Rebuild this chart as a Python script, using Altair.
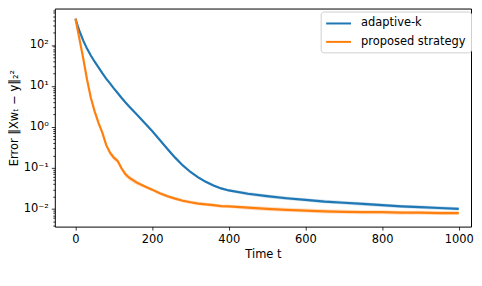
import altair as alt
import pandas as pd

# time steps
t = [0, 5, 10, 20, 30, 40, 50, 60, 70, 80, 90, 100, 110, 120, 130, 140, 160, 180, 200,
     220, 240, 260, 280, 300, 320, 340, 360, 380, 400, 450, 500, 550, 600, 650, 700,
     750, 800, 850, 900, 950, 1000]

# adaptive-k error
adaptive = [436.5, 302, 224, 129, 81.3, 55, 38.9, 28.2, 20.4, 15.1, 11.5, 8.7, 6.7, 5.13,
            4.0, 3.16, 2.0, 1.26, 0.79, 0.48, 0.29, 0.178, 0.115, 0.0794, 0.0589,
            0.0457, 0.0372, 0.0316, 0.0282, 0.0234, 0.0204, 0.0182, 0.0166, 0.0151,
            0.0141, 0.0132, 0.0123, 0.0115, 0.0110, 0.0105, 0.0100]

# proposed strategy error
proposed = [436.5, 251, 144.5, 47.9, 14.5, 5.13, 2.40, 1.26, 0.724, 0.363, 0.234, 0.178,
            0.148, 0.0977, 0.0708, 0.0575, 0.0437, 0.0355, 0.0295, 0.0240, 0.0204,
            0.0178, 0.0158, 0.0145, 0.0135, 0.0129, 0.0123, 0.0117, 0.0115, 0.0107,
            0.0100, 0.0095, 0.0091, 0.0087, 0.0085, 0.0083, 0.0083, 0.0081, 0.0081,
            0.0079, 0.0079]

# relative spread of the shaded band
adaptive_spread = [0.02] * 12 + [0.03] * 7 + [0.04] * 5 + [0.07] * 5 + [0.1] * 12
proposed_spread = [0.03] * 10 + [0.15] * 7 + [0.1] * 12 + [0.12] * 12

series_names = ["adaptive-k", "proposed strategy"]
colors = ["#1f77b4", "#ff7f0e"]

rows = []
for name, vals, spr in [(series_names[0], adaptive, adaptive_spread),
                        (series_names[1], proposed, proposed_spread)]:
    for ti, v, s in zip(t, vals, spr):
        rows.append({"t": ti, "series": name, "value": v,
                     "lo": v / (1 + s), "hi": v * (1 + s)})
df = pd.DataFrame(rows)

major = [0.01, 0.1, 1, 10, 100]
minor = [m * 10.0 ** k for k in range(-3, 3) for m in range(2, 10)]
minor = [round(v, 6) for v in minor if 0.0037 <= v <= 770]
yticks = major + minor

is_major = "indexof([0.01,0.1,1,10,100], datum.value) >= 0"
label_expr = ("datum.value == 100 ? '10²' : datum.value == 10 ? '10¹' : "
              "datum.value == 1 ? '10⁰' : datum.value == 0.1 ? '10⁻¹' : "
              "datum.value == 0.01 ? '10⁻²' : ''")

yscale = alt.Scale(type="log", domain=[0.003698, 770.9], nice=False)
xscale = alt.Scale(domain=[-54, 1032], nice=False, zero=False)

yaxis = alt.Axis(
    values=yticks,
    labelExpr=label_expr,
    tickSize={"condition": {"test": is_major, "value": 3.5}, "value": 2},
    labelFontSize={"condition": {"test": is_major, "value": 11.5}, "value": 0},
    labelOverlap=False,
    title="Error ‖Xwₜ − y‖₂²",
    titleFontWeight="normal",
    titleFontSize=11.5,
    domain=False,
    grid=False,
    tickColor="black",
    tickWidth=0.8,
    labelColor="black",
    titleColor="black",
    labelPadding=3,
    titlePadding=4,
)
xaxis = alt.Axis(
    values=[0, 200, 400, 600, 800, 1000],
    format="d",
    title="Time t",
    titleFontWeight="normal",
    titleFontSize=11.5,
    labelFontSize=11.5,
    domain=False,
    grid=False,
    tickSize=3.5,
    tickColor="black",
    tickWidth=0.8,
    labelColor="black",
    titleColor="black",
    labelFlush=False,
    labelPadding=3,
    titlePadding=4,
)

base = alt.Chart(df)

bands = [
    base.transform_filter(alt.datum.series == name).mark_area(color=c, opacity=0.25).encode(
        x=alt.X("t:Q", scale=xscale, axis=xaxis),
        y=alt.Y("lo:Q", scale=yscale, axis=yaxis),
        y2=alt.Y2("hi:Q"),
    )
    for name, c in zip(series_names, colors)
]

line = base.mark_line(strokeWidth=2.2).encode(
    x=alt.X("t:Q", scale=xscale, axis=xaxis),
    y=alt.Y("value:Q", scale=yscale, axis=yaxis),
    color=alt.Color(
        "series:N",
        scale=alt.Scale(domain=series_names, range=colors),
        legend=alt.Legend(
            title=None,
            orient="none",
            legendX=267,
            legendY=3,
            padding=4.5,
            rowPadding=5.5,
            strokeColor="#d0d0d0",
            fillColor="white",
            cornerRadius=3,
            symbolType="M-2,0H2",
            symbolSize=156,
            symbolOffset=6,
            symbolStrokeWidth=2,
            labelFontSize=11.5,
            labelFont="DejaVu Sans",
            labelColor="black",
            labelOffset=15,
        ),
    ),
)

chart = alt.layer(*bands, line).properties(
    width=418,
    height=219,
    padding={"left": 0, "right": 0, "top": 0, "bottom": 0},
).configure(
    font="DejaVu Sans",
).configure_axis(
    labelFont="DejaVu Sans",
    titleFont="DejaVu Sans",
).configure_view(
    stroke="black",
    strokeWidth=1,
)

chart.save("out.html", embed_options={"renderer": "svg", "actions": False})
